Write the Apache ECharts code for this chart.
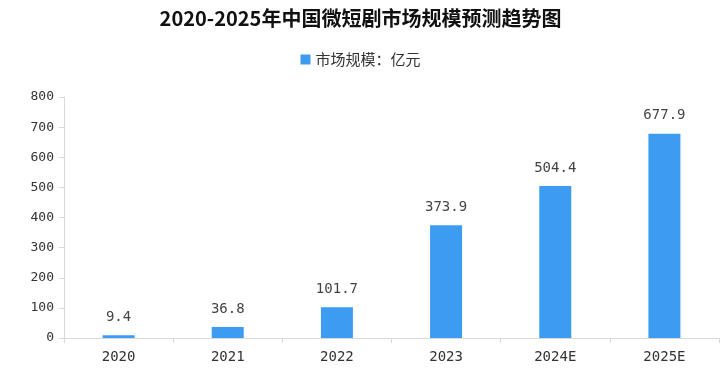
<!DOCTYPE html>
<html>
<head>
<meta charset="utf-8">
<script src="https://cdn.jsdelivr.net/npm/echarts@6/dist/echarts.min.js"></script>
<style>
  html, body { margin: 0; padding: 0; background: #fff; }
  #chart { width: 721px; height: 378px; }
</style>
</head>
<body>
<div id="chart"></div>
<script>
const years = ['2020', '2021', '2022', '2023', '2024E', '2025E'];
const marketSize = [9.4, 36.8, 101.7, 373.9, 504.4, 677.9];

const chart = echarts.init(document.getElementById('chart'));
chart.setOption({
  animation: false,
  title: {
    text: '2020-2025年中国微短剧市场规模预测趋势图',
    left: 'center',
    top: 3,
    textStyle: { fontSize: 20, fontWeight: 'bold', color: '#111', fontFamily: 'Noto Sans CJK SC' }
  },
  legend: {
    data: ['市场规模：亿元'],
    top: 47,
    left: 'center',
    itemWidth: 10,
    itemHeight: 10,
    itemGap: 8,
    icon: 'rect',
    textStyle: { fontSize: 15, color: '#333', fontFamily: 'Noto Sans CJK SC' }
  },
  grid: { left: 64, right: 2, top: 97, bottom: 40 },
  xAxis: {
    type: 'category',
    data: years,
    axisLine: { lineStyle: { color: '#d9d9d9' } },
    axisTick: { show: true, lineStyle: { color: '#d9d9d9' } },
    axisLabel: { color: '#333', fontSize: 14, margin: 12, fontFamily: 'DejaVu Sans Mono' }
  },
  yAxis: {
    type: 'value',
    min: 0,
    max: 800,
    interval: 100,
    axisLine: { show: true, lineStyle: { color: '#d9d9d9' } },
    axisTick: { show: true, lineStyle: { color: '#d9d9d9' } },
    splitLine: { show: false },
    axisLabel: { color: '#333', fontSize: 13, margin: 10, fontFamily: 'DejaVu Sans Mono' }
  },
  series: [{
    name: '市场规模：亿元',
    type: 'bar',
    data: marketSize,
    barWidth: 32,
    itemStyle: { color: '#3d9cf0' },
    label: {
      show: true,
      position: 'top',
      distance: 11,
      color: '#444',
      fontSize: 14,
      fontFamily: 'DejaVu Sans Mono'
    }
  }]
});
</script>
</body>
</html>
